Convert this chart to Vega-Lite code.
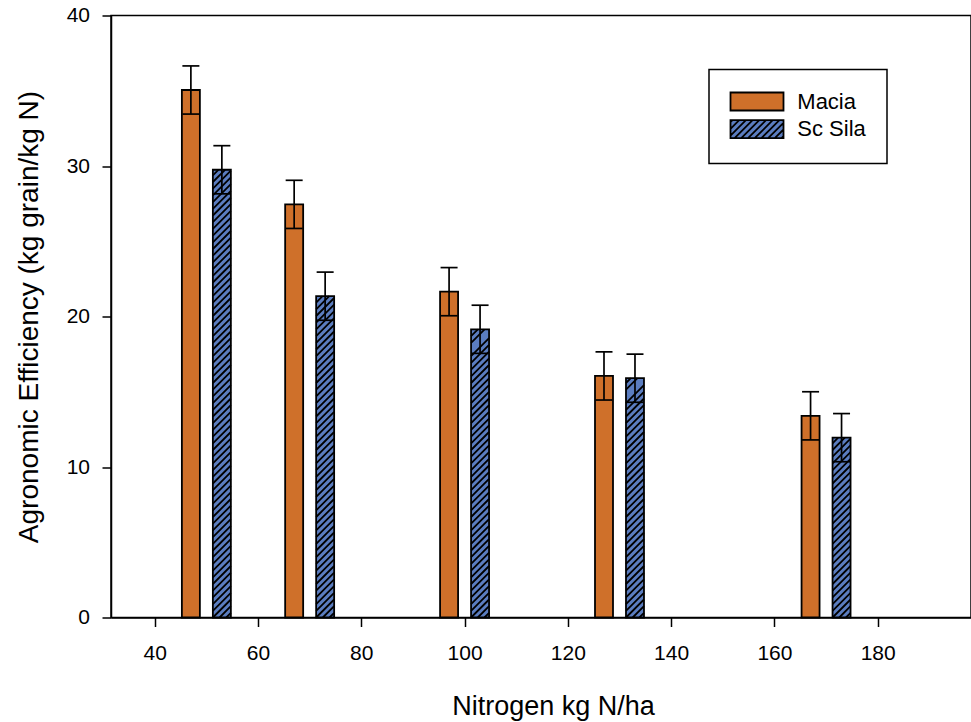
{
  "$schema": "https://vega.github.io/schema/vega-lite/v6.json",
  "width": 860,
  "height": 602,
  "autosize": {"type": "none"},
  "padding": {"left": 111, "top": 15.5, "right": 0, "bottom": 104.5},
  "background": "white",
  "data": {
    "values": [
      {"x": 47, "nitrogen": 50, "variety": "Macia", "value": 35.05, "lo": 33.45, "hi": 36.65},
      {"x": 53, "nitrogen": 50, "variety": "Sc Sila", "value": 29.75, "lo": 28.15, "hi": 31.35},
      {"x": 67, "nitrogen": 70, "variety": "Macia", "value": 27.45, "lo": 25.85, "hi": 29.05},
      {"x": 73, "nitrogen": 70, "variety": "Sc Sila", "value": 21.35, "lo": 19.75, "hi": 22.95},
      {"x": 97, "nitrogen": 100, "variety": "Macia", "value": 21.65, "lo": 20.05, "hi": 23.25},
      {"x": 103, "nitrogen": 100, "variety": "Sc Sila", "value": 19.15, "lo": 17.55, "hi": 20.75},
      {"x": 127, "nitrogen": 130, "variety": "Macia", "value": 16.05, "lo": 14.45, "hi": 17.65},
      {"x": 133, "nitrogen": 130, "variety": "Sc Sila", "value": 15.9, "lo": 14.3, "hi": 17.5},
      {"x": 167, "nitrogen": 170, "variety": "Macia", "value": 13.4, "lo": 11.8, "hi": 15.0},
      {"x": 173, "nitrogen": 170, "variety": "Sc Sila", "value": 11.95, "lo": 10.35, "hi": 13.55}
    ]
  },
  "encoding": {
    "x": {
      "field": "x",
      "type": "quantitative",
      "scale": {"domain": [32.5, 197.1], "nice": false, "zero": false},
      "axis": {
        "title": "Nitrogen kg N/ha",
        "values": [40, 60, 80, 100, 120, 140, 160, 180],
        "labelPadding": 16,
        "labelFlush": false,
        "labelOverlap": false,
        "titleX": 442,
        "titleY": 97,
        "titleBaseline": "alphabetic",
        "titleAlign": "center"
      }
    }
  },
  "layer": [
    {
      "mark": {"type": "bar", "width": 18, "strokeWidth": 0},
      "encoding": {
        "y": {
          "field": "value",
          "type": "quantitative",
          "scale": {"domain": [0, 40], "nice": false},
          "title": "Agronomic Efficiency (kg grain/kg N)",
          "axis": {
            "values": [0, 10, 20, 30, 40],
            "labelPadding": 12.5,
            "titleX": -74,
            "titleY": 301,
            "titleAngle": -90,
            "titleFontSize": 28,
            "titleBaseline": "alphabetic",
            "titleAlign": "center"
          }
        },
        "fill": {
          "field": "variety",
          "type": "nominal",
          "scale": {"domain": ["Macia", "Sc Sila"], "range": ["#cf702a", "#5b7dc0"]},
          "legend": {
            "title": null,
            "orient": "none",
            "legendX": 598,
            "legendY": 54,
            "padding": 21,
            "strokeColor": "black",
            "fillColor": "white",
            "rowPadding": 1.7,
            "symbolSize": 4,
            "symbolType": "M-26.5-9H26.5V9H-26.5Z",
            "symbolStrokeWidth": 1.8,
            "symbolStrokeColor": "black",
            "symbolOpacity": 1,
            "symbolOffset": 16,
            "labelOffset": 29.3,
            "labelFontSize": 22,
            "labelFont": "Liberation Sans",
            "labelColor": "black",
            "encode": {
              "legend": {"update": {"strokeWidth": {"value": 1.5}}},
              "symbols": {
                "update": {
                  "shape": {"signal": "datum.value === 'Sc Sila' ? 'M-26.5-9H26.5V9H-26.5ZM-26.5-7L-24.5-9M-26.5-0.3L-17.8-9M-26.5 6.4L-11.1-9M-22.4 9L-4.4-9M-15.7 9L2.3-9M-9 9L9-9M-2.3 9L15.7-9M4.4 9L22.4-9M11.1 9L26.5-6.4M17.8 9L26.5 0.3M24.5 9L26.5 7' : 'M-26.5-9H26.5V9H-26.5Z'"},
                  "stroke": {"value": "black"},
                  "strokeWidth": {"value": 1.8}
                }
              }
            }
          }
        }
      }
    },
    {
      "transform": [{"filter": "datum.variety === 'Sc Sila'"}],
      "mark": {"type": "point", "filled": false, "size": 4, "stroke": "black", "strokeWidth": 1.8, "opacity": 1, "strokeCap": "butt"},
      "encoding": {
        "y": {"datum": 0, "type": "quantitative", "title": "Agronomic Efficiency (kg grain/kg N)"},
        "shape": {
          "field": "x",
          "type": "nominal",
          "legend": null,
          "scale": {
            "domain": [53, 73, 103, 133, 173],
            "range": [
              "M-2.3 0L9-11.3M4.4 0L9-4.6M-9 0l18-18M-9-6.7l18-18M-9-13.4l18-18M-9-20.1l18-18M-9-26.8l18-18M-9-33.5l18-18M-9-40.2l18-18M-9-46.9l18-18M-9-53.6l18-18M-9-60.3l18-18M-9-67l18-18M-9-73.7l18-18M-9-80.4l18-18M-9-87.1l18-18M-9-93.8l18-18M-9-100.5l18-18M-9-107.2l18-18M-9-113.9l18-18M-9-120.6l18-18M-9-127.3l18-18M-9-134l18-18M-9-140.7l18-18M-9-147.4l18-18M-9-154.1l18-18M-9-160.8l18-18M-9-167.5l18-18M-9-174.2l18-18M-9-180.9l18-18M-9-187.6l18-18M-9-194.3l18-18M-9-201l18-18M-9-207.7l18-18M-9-214.4l18-18M-9-221.1l18-18M-9-227.8l18-18M-9-234.5l18-18M-9-241.2l18-18M-9-247.9l18-18M-9-254.6l18-18M-9-261.3l18-18M-9-268l18-18M-9-274.7l18-18M-9-281.4l18-18M-9-288.1l18-18M-9-294.8l18-18M-9-301.5l18-18M-9-308.2l18-18M-9-314.9l18-18M-9-321.6l18-18M-9-328.3l18-18M-9-335l18-18M-9-341.7l18-18M-9-348.4l18-18M-9-355.1l18-18M-9-361.8l18-18M-9-368.5l18-18M-9-375.2l18-18M-9-381.9l18-18M-9-388.6l18-18M-9-395.3l18-18M-9-402l18-18M-9-408.7l18-18M-9-415.4l18-18M-9-422.1l18-18M-9-428.8l18-18M-9-435.5l12.2-12.2M-9-442.2l5.5-5.5",
              "M-2.3 0L9-11.3M4.4 0L9-4.6M-9 0l18-18M-9-6.7l18-18M-9-13.4l18-18M-9-20.1l18-18M-9-26.8l18-18M-9-33.5l18-18M-9-40.2l18-18M-9-46.9l18-18M-9-53.6l18-18M-9-60.3l18-18M-9-67l18-18M-9-73.7l18-18M-9-80.4l18-18M-9-87.1l18-18M-9-93.8l18-18M-9-100.5l18-18M-9-107.2l18-18M-9-113.9l18-18M-9-120.6l18-18M-9-127.3l18-18M-9-134l18-18M-9-140.7l18-18M-9-147.4l18-18M-9-154.1l18-18M-9-160.8l18-18M-9-167.5l18-18M-9-174.2l18-18M-9-180.9l18-18M-9-187.6l18-18M-9-194.3l18-18M-9-201l18-18M-9-207.7l18-18M-9-214.4l18-18M-9-221.1l18-18M-9-227.8l18-18M-9-234.5l18-18M-9-241.2l18-18M-9-247.9l18-18M-9-254.6l18-18M-9-261.3l18-18M-9-268l18-18M-9-274.7l18-18M-9-281.4l18-18M-9-288.1l18-18M-9-294.8l18-18M-9-301.5l18-18M-9-308.2l13.1-13.1M-9-314.9l6.4-6.4",
              "M-2.3 0L9-11.3M4.4 0L9-4.6M-9 0l18-18m-18 11.3l18-18m-18 11.3l18-18m-18 11.3l18-18m-18 11.3l18-18m-18 11.3l18-18m-18 11.3l18-18m-18 11.3l18-18m-18 11.3l18-18m-18 11.3l18-18m-18 11.3l18-18m-18 11.3l18-18m-18 11.3l18-18m-18 11.3l18-18m-18 11.3l18-18m-18 11.3l18-18m-18 11.3l18-18m-18 11.3l18-18m-18 11.3l18-18m-18 11.3l18-18m-18 11.3l18-18m-18 11.3l18-18m-18 11.3l18-18m-18 11.3l18-18m-18 11.3l18-18m-18 11.3l18-18m-18 11.3l18-18m-18 11.3l18-18m-18 11.3l18-18m-18 11.3l18-18m-18 11.3l18-18m-18 11.3l18-18m-18 11.3l18-18m-18 11.3l18-18m-18 11.3l18-18m-18 11.3l18-18m-18 11.3l18-18m-18 11.3l18-18m-18 11.3l18-18m-18 11.3l18-18M-9-274.7l13.5-13.5M-9-281.4l6.8-6.8",
              "M-2.3 0L9-11.3M4.4 0L9-4.6M-9 0l18-18m-18 11.3l18-18m-18 11.3l18-18m-18 11.3l18-18m-18 11.3l18-18m-18 11.3l18-18m-18 11.3l18-18m-18 11.3l18-18m-18 11.3l18-18m-18 11.3l18-18m-18 11.3l18-18m-18 11.3l18-18m-18 11.3l18-18m-18 11.3l18-18m-18 11.3l18-18m-18 11.3l18-18m-18 11.3l18-18m-18 11.3l18-18m-18 11.3l18-18m-18 11.3l18-18m-18 11.3l18-18m-18 11.3l18-18m-18 11.3l18-18m-18 11.3l18-18m-18 11.3l18-18m-18 11.3l18-18m-18 11.3l18-18m-18 11.3l18-18m-18 11.3l18-18m-18 11.3l18-18m-18 11.3l18-18m-18 11.3l18-18m-18 11.3l18-18M-9-227.8l11.5-11.5M-9-234.5l4.8-4.8",
              "M-2.3 0L9-11.3M4.4 0L9-4.6M-9 0l18-18m-18 11.3l18-18m-18 11.3l18-18m-18 11.3l18-18m-18 11.3l18-18m-18 11.3l18-18m-18 11.3l18-18m-18 11.3l18-18m-18 11.3l18-18m-18 11.3l18-18m-18 11.3l18-18m-18 11.3l18-18m-18 11.3l18-18m-18 11.3l18-18m-18 11.3l18-18m-18 11.3l18-18m-18 11.3l18-18m-18 11.3l18-18m-18 11.3l18-18m-18 11.3l18-18m-18 11.3l18-18m-18 11.3l18-18m-18 11.3l18-18m-18 11.3l18-18m-18 11.3l18-18M-9-167.5l12.3-12.3M-9-174.2l5.6-5.6"
            ]
          }
        }
      }
    },
    {
      "mark": {"type": "bar", "width": 18, "fillOpacity": 0, "stroke": "black", "strokeWidth": 1.8},
      "encoding": {
        "y": {"field": "value", "type": "quantitative", "title": "Agronomic Efficiency (kg grain/kg N)"}
      }
    },
    {
      "mark": {"type": "rule", "color": "black", "strokeWidth": 1.7},
      "encoding": {
        "y": {"field": "lo", "type": "quantitative", "title": "Agronomic Efficiency (kg grain/kg N)"},
        "y2": {"field": "hi"}
      }
    },
    {
      "mark": {"type": "tick", "orient": "horizontal", "size": 17, "thickness": 1.7, "color": "black", "opacity": 1},
      "encoding": {
        "y": {"field": "hi", "type": "quantitative", "title": "Agronomic Efficiency (kg grain/kg N)"}
      }
    },
    {
      "mark": {"type": "tick", "orient": "horizontal", "size": 17, "thickness": 1.7, "color": "black", "opacity": 1},
      "encoding": {
        "y": {"field": "lo", "type": "quantitative", "title": "Agronomic Efficiency (kg grain/kg N)"}
      }
    }
  ],
  "config": {
    "font": "Liberation Sans",
    "view": {"stroke": "black", "strokeWidth": 1.5},
    "axis": {
      "grid": false,
      "domainColor": "black",
      "domainWidth": 1.5,
      "tickColor": "black",
      "tickWidth": 1.5,
      "tickSize": 9,
      "labelColor": "black",
      "labelFont": "Liberation Sans",
      "labelFontSize": 21,
      "titleColor": "black",
      "titleFont": "Liberation Sans",
      "titleFontSize": 27,
      "titleFontWeight": "normal"
    }
  }
}
